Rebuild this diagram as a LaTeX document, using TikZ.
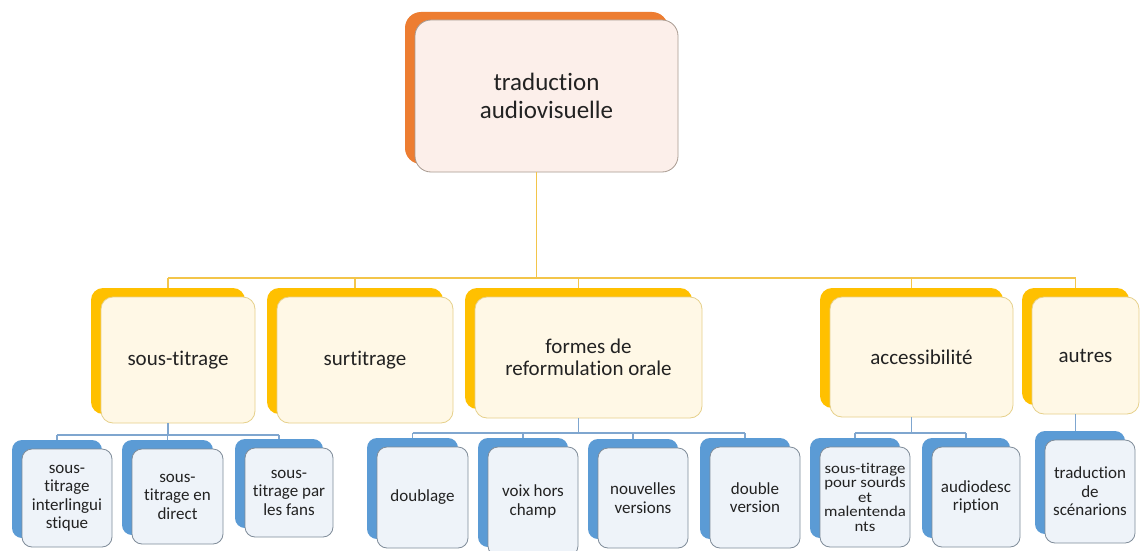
\documentclass[tikz,border=0pt]{standalone}
\usepackage{fontspec}
\setmainfont{Carlito}[Ligatures=NoCommon]
\newfontfamily\widefont[FakeStretch=1.12,Ligatures=NoCommon]{Carlito}
\usetikzlibrary{shadows}
\definecolor{orgbk}{HTML}{ED7D31}
\definecolor{topfg}{HTML}{FCEFEA}
\definecolor{topbd}{HTML}{A89A90}
\definecolor{ybk}{HTML}{FFC000}
\definecolor{yfg}{HTML}{FFF8E6}
\definecolor{ybd}{HTML}{E6D08A}
\definecolor{bbk}{HTML}{5B9BD5}
\definecolor{bfg}{HTML}{EEF3F9}
\definecolor{bbd}{HTML}{7F8C99}
\definecolor{yln}{HTML}{F3C54A}
\definecolor{bln}{HTML}{7FA6CF}
\definecolor{txt}{HTML}{222222}
\begin{document}
\begin{tikzpicture}[x=1pt,y=-1pt,
  topbox/.style={rounded corners=16pt, draw=topbd, line width=0.8pt, fill=topfg,
    general shadow={shadow xshift=-10pt, shadow yshift=8pt, fill=orgbk, draw=none},
    align=center, text=txt, inner sep=0pt, font=\fontsize{25}{28}\selectfont},
  midbox/.style={rounded corners=12pt, draw=ybd, line width=0.8pt, fill=yfg,
    general shadow={shadow xshift=-10pt, shadow yshift=9pt, fill=ybk, draw=none},
    align=center, text=txt, inner sep=0pt, font=\fontsize{21}{22.5}\selectfont},
  lowbox/.style={rounded corners=10pt, draw=bbd, line width=0.8pt, fill=bfg,
    general shadow={shadow xshift=-10pt, shadow yshift=9pt, fill=bbk, draw=none},
    align=center, text=txt, inner sep=0pt, font=\fontsize{17}{18.5}\selectfont},
  yline/.style={draw=yln, line width=1.8pt},
  bline/.style={draw=bln, line width=1.5pt}]
\useasboundingbox[fill=white] (0,0) rectangle (1140,551);

% top
\node[topbox, minimum width=263pt, minimum height=152pt] (top) at (546.5,96) {traduction\\audiovisuelle};

% level 2
\node[midbox, minimum width=154pt, minimum height=126pt] (st) at (178,360) {sous-titrage};
\node[midbox, minimum width=176pt, minimum height=126pt] (sur) at (365,360) {surtitrage};
\node[midbox, minimum width=227pt, minimum height=121pt] (form) at (588.5,357.5) {formes de\\reformulation orale};
\node[midbox, minimum width=183pt, minimum height=120pt] (acc) at (921.5,357) {accessibilité};
\node[midbox, minimum width=107pt, minimum height=117pt] (aut) at (1085.5,355.5) {autres};

% level 3
\node[lowbox, minimum width=90pt, minimum height=98pt] (c1) at (67,498) {sous-\\titrage\\interlingui\\stique};
\node[lowbox, minimum width=91pt, minimum height=95pt] (c2) at (177.5,496.5) {sous-\\titrage en\\direct};
\node[lowbox, minimum width=88pt, minimum height=89pt] (c3) at (289,492.5) {sous-\\titrage par\\les fans};
\node[lowbox, minimum width=91pt, minimum height=101pt] (d1) at (422.5,497.5) {doublage};
\node[lowbox, minimum width=90pt, minimum height=109pt] (d2) at (533,501.5) {voix hors\\champ};
\node[lowbox, minimum width=90pt, minimum height=100pt] (d3) at (643,498) {nouvelles\\versions};
\node[lowbox, minimum width=90pt, minimum height=101pt] (d4) at (755,497.5) {double\\version};
\node[lowbox, minimum width=90pt, minimum height=100pt, font=\widefont\fontsize{15}{14.5}\selectfont] (a1) at (865,497) {sous-titrage\\pour sourds\\et\\malentenda\\nts};
\node[lowbox, minimum width=88pt, minimum height=100pt] (a2) at (976,497) {audiodesc\\ription};
\node[lowbox, minimum width=90pt, minimum height=103pt] (t1) at (1090,491.5) {traduction\\de\\scénarions};

\foreach \n in {top,st,sur,form,acc,aut,c1,c2,c3,d1,d2,d3,d4,a1,a2,t1}{
  \coordinate (\n T) at ([shift={(-10pt,9pt)}]\n.north);
  \coordinate (\n B) at ([xshift=-10pt]\n.south);
}

% level 1 -> 2
\coordinate (b1) at (0,278);
\draw[yline] (topB) -- (topB |- b1);
\draw[yline] (stT |- b1) -- (autT |- b1);
\foreach \n in {st,sur,form,acc,aut}{
  \draw[yline, line width=1.2pt] (\n T |- b1) -- (\n T);
}

% sous-titrage -> children
\coordinate (b2) at (0,435);
\draw[bline] (stB) -- (stB |- b2);
\draw[bline] (c1T |- b2) -- (c3T |- b2);
\foreach \n in {c1,c2,c3}{ \draw[bline] (\n T |- b2) -- (\n T); }

% formes -> children
\coordinate (b3) at (0,433);
\draw[bline] (formB) -- (formB |- b3);
\draw[bline] (d1T |- b3) -- (d4T |- b3);
\foreach \n in {d1,d2,d3,d4}{ \draw[bline] (\n T |- b3) -- (\n T); }

% accessibilite -> children
\draw[bline] (accB) -- (accB |- b3);
\draw[bline] (a1T |- b3) -- (a2T |- b3);
\foreach \n in {a1,a2}{ \draw[bline] (\n T |- b3) -- (\n T); }

% autres -> child
\draw[bline] (autB) -- (autB |- t1T);
\end{tikzpicture}
\end{document}
